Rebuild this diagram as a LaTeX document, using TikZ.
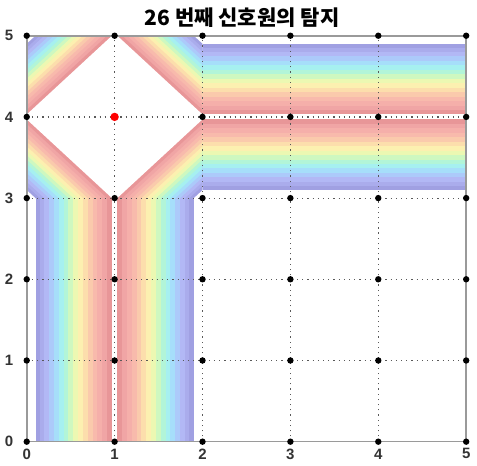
\documentclass[tikz,border=0pt]{standalone}
\usepackage{fontspec}
\newfontfamily\cjk{Noto Sans CJK KR}
\newfontfamily\lblfont{Liberation Sans}
\definecolor{band1}{RGB}{232,150,152}
\definecolor{band2}{RGB}{240,165,165}
\definecolor{band3}{RGB}{245,175,170}
\definecolor{band4}{RGB}{248,186,172}
\definecolor{band5}{RGB}{250,202,172}
\definecolor{band6}{RGB}{252,222,172}
\definecolor{band7}{RGB}{252,240,176}
\definecolor{band8}{RGB}{236,248,178}
\definecolor{band9}{RGB}{206,248,192}
\definecolor{band10}{RGB}{178,245,216}
\definecolor{band11}{RGB}{166,240,240}
\definecolor{band12}{RGB}{166,222,250}
\definecolor{band13}{RGB}{172,202,250}
\definecolor{band14}{RGB}{178,184,245}
\definecolor{band15}{RGB}{170,172,236}
\definecolor{band16}{RGB}{160,160,226}
\definecolor{frame-gray}{HTML}{9A9A9A}

\begin{document}
\begin{tikzpicture}[x=43.95pt, y=40.6pt,
    dot/.style={circle, fill=black, inner sep=0pt, minimum size=3.2pt},
    gridline/.style={dotted, line width=0.6pt, color=black!65},
    axislabel/.style={font=\lblfont\bfseries\fontsize{7.5}{8}\selectfont, text=black!80}]
  \useasboundingbox (-0.304,-0.299) rectangle (5.123,5.44);
  % stripes from the outside in, white last
  \foreach \b/\c in {0.9/band16, 0.85/band15, 0.8/band14, 0.745/band13,
      0.69/band12, 0.635/band11, 0.58/band10, 0.525/band9, 0.47/band8,
      0.415/band7, 0.36/band6, 0.305/band5, 0.25/band4, 0.195/band3,
      0.14/band2, 0.085/band1, 0.03/white} {
    \fill[\c] (1-\b,0) rectangle (1+\b,3);
    \fill[\c] (2,4-\b) rectangle (5,4+\b);
    \begin{scope}
      \clip (0,3) rectangle (2,5);
      \fill[\c] (-\b,4) -- (1,5+\b) -- (2+\b,4) -- (1,3-\b) -- cycle;
    \end{scope}
  }
  \foreach \i in {1,...,4} {
    \draw[gridline] (\i,0) -- (\i,5);
    \draw[gridline] (0,\i) -- (5,\i);
  }
  \draw[frame-gray, line width=0.8pt] (0,0) rectangle (5,5);
  \foreach \i in {0,...,5}
    \foreach \j in {0,...,5}
      \node[dot] (p\i\j) at (\i,\j) {};
  \node[dot, fill=red, minimum size=4.2pt] (src) at (1,4) {};
  \foreach \i in {0,...,5} {
    \node[axislabel] (xl\i) at (\i,-0.15) {\i};
    \node[axislabel] (yl\i) at (-0.2,\i) {\i};
  }
  \node[font=\cjk\bfseries\fontsize{10.5}{12}\selectfont] (title) at (2.45,5.22)
    {26 번째 신호원의 탐지};
\end{tikzpicture}
\end{document}
